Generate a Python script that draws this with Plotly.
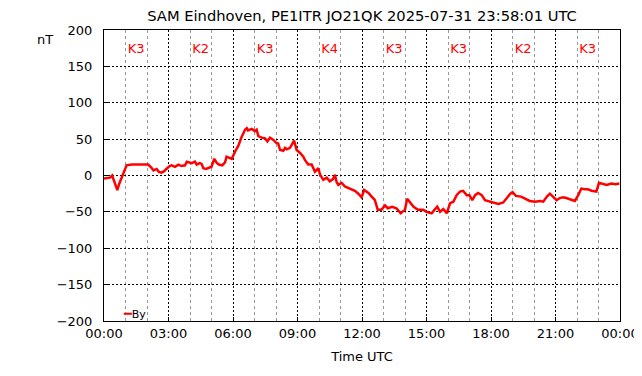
import plotly.graph_objects as go

# Time (hours UTC) and By (nT)
hours = [0.0, 0.15, 0.28, 0.38, 0.45, 0.55, 0.62, 0.7, 0.82, 0.92, 1.05, 1.3, 1.6, 1.85, 2.06,
         2.2, 2.3, 2.45, 2.55, 2.68, 2.8, 2.9, 3.05, 3.15, 3.3, 3.46, 3.6, 3.77, 3.85, 4.08,
         4.23, 4.31, 4.45, 4.54, 4.62, 4.75, 4.85, 5.0, 5.13, 5.25, 5.35, 5.5, 5.63, 5.7, 5.86,
         5.94, 6.1, 6.25, 6.4, 6.56, 6.64, 6.7, 6.87, 7.02, 7.1, 7.18, 7.33, 7.49, 7.6, 7.72,
         7.88, 8.0, 8.1, 8.19, 8.34, 8.42, 8.5, 8.65, 8.84, 8.96, 9.12, 9.27, 9.35, 9.5, 9.66,
         9.81, 9.97, 10.05, 10.2, 10.36, 10.5, 10.65, 10.74, 10.82, 10.9, 11.05, 11.2, 11.44,
         11.67, 11.83, 11.98, 12.1, 12.3, 12.45, 12.6, 12.73, 12.9, 13.07, 13.2, 13.4, 13.6,
         13.8, 14.0, 14.1, 14.2, 14.4, 14.6, 14.85, 15.0, 15.24, 15.35, 15.5, 15.63, 15.78,
         15.94, 16.1, 16.25, 16.4, 16.56, 16.7, 16.87, 17.0, 17.13, 17.26, 17.4, 17.57, 17.72,
         17.95, 18.19, 18.34, 18.57, 18.73, 18.9, 19.0, 19.16, 19.4, 19.64, 19.8, 20.05, 20.28,
         20.43, 20.6, 20.74, 20.9, 21.05, 21.2, 21.36, 21.5, 21.75, 21.9, 22.06, 22.2, 22.37,
         22.5, 22.68, 22.9, 23.02, 23.2, 23.38, 23.6, 23.8, 23.97]
by_nt = [-4, -4, -3, 0, -6, -15, -20, -12, -3, 5, 14, 15, 15, 16, 15,
         11, 7, 9, 5, 4, 6, 9, 13, 14, 12, 15, 13, 14, 19, 17,
         19, 15, 17, 16, 10, 9, 10, 12, 23, 17, 15, 14, 18, 26, 24,
         23, 33, 41, 53, 63, 65, 62, 64, 61, 63, 54, 52, 51, 47, 52,
         49, 45, 44, 35, 34, 38, 36, 38, 48, 35, 31, 26, 21, 15, 15,
         5, 10, 1, -6, -3, -8, -5, 1, -9, -13, -10, -15, -18,
         -21, -25, -30, -20, -24, -29, -34, -47, -47, -41, -45, -43, -45,
         -52, -47, -32, -36, -43, -47, -47, -50, -52, -48, -43, -50, -46,
         -52, -38, -36, -27, -22, -21, -27, -27, -34, -27, -24, -27, -34,
         -36, -38, -39, -37, -31, -25, -23, -28, -29, -33, -35, -36, -35,
         -36, -29, -25, -29, -34, -31, -30, -31, -33, -35, -27, -18, -19,
         -19, -21, -22, -10, -12, -13, -11, -12, -11]

# K index per 3-hour block
k_hours = [1.5, 4.5, 7.5, 10.5, 13.5, 16.5, 19.5, 22.5]
k_labels = ["K3", "K2", "K3", "K4", "K3", "K3", "K2", "K3"]
k_level = 173

x_tickvals = [0, 3, 6, 9, 12, 15, 18, 21, 24]
x_ticktext = ["00:00", "03:00", "06:00", "09:00", "12:00", "15:00", "18:00", "21:00", "00:00"]
x_minor = [h for h in range(25) if h % 3 != 0]
y_tickvals = [-200, -150, -100, -50, 0, 50, 100, 150, 200]

FONT = "DejaVu Sans"
OFF = 8  # default page body margin
W, H = 642 - OFF, 376 - OFF
L, T, R, B = 104 - OFF, 30 - OFF, 22, 55
PW, PH = W - L - R, H - T - B

fig = go.Figure()
fig.add_trace(go.Scatter(x=hours, y=by_nt, mode="lines", name="By",
                         line=dict(color="#ff0000", width=2.5), showlegend=False))
fig.add_trace(go.Scatter(x=k_hours, y=[k_level] * len(k_hours), mode="text", text=k_labels,
                         textfont=dict(color="#ff0000", size=13, family=FONT),
                         showlegend=False, hoverinfo="skip"))

fig.update_layout(
    width=W, height=H,
    margin=dict(l=L, r=R, t=T, b=B, autoexpand=False),
    paper_bgcolor="white", plot_bgcolor="white",
    font=dict(family=FONT, size=13, color="black"),
    title=dict(text="SAM Eindhoven, PE1ITR JO21QK 2025-07-31 23:58:01 UTC",
               x=(362 - OFF) / W, xanchor="center", y=1 - (16 - OFF) / H, yanchor="middle",
               font=dict(size=14.7, family=FONT)),
    xaxis=dict(range=[0, 24], tickmode="array", tickvals=x_tickvals, ticktext=x_ticktext,
               showline=True, linecolor="black", linewidth=1, mirror=True,
               showgrid=True, gridcolor="black", griddash="2px,2px", gridwidth=1,
               ticks="inside", ticklen=4, tickcolor="black",
               zeroline=False, automargin=False,
               minor=dict(tickmode="array", tickvals=x_minor, showgrid=True,
                          gridcolor="#999999", griddash="3px,3px", gridwidth=1),
               title=dict(text="Time UTC", standoff=12, font=dict(size=13))),
    yaxis=dict(range=[-200, 200], tickmode="array", tickvals=y_tickvals,
               showline=True, linecolor="black", linewidth=1, mirror=True,
               showgrid=True, gridcolor="black", griddash="2px,2px", gridwidth=1,
               ticks="inside", ticklen=4, tickcolor="black",
               zeroline=False, automargin=False, ticklabelstandoff=8),
    annotations=[
        dict(text="nT", xref="paper", yref="paper", x=(45 - 104) / PW, y=(321 - 40) / PH,
             showarrow=False, xanchor="center", yanchor="middle", font=dict(size=13)),
        dict(text="<span style='color:#ff0000;font-size:13px'>━</span>By",
             xref="paper", yref="paper",
             x=(121 - 104) / PW, y=(321 - 313) / PH, showarrow=False,
             xanchor="left", yanchor="middle", font=dict(size=11)),
    ],
)

fig.write_html("out.html")
